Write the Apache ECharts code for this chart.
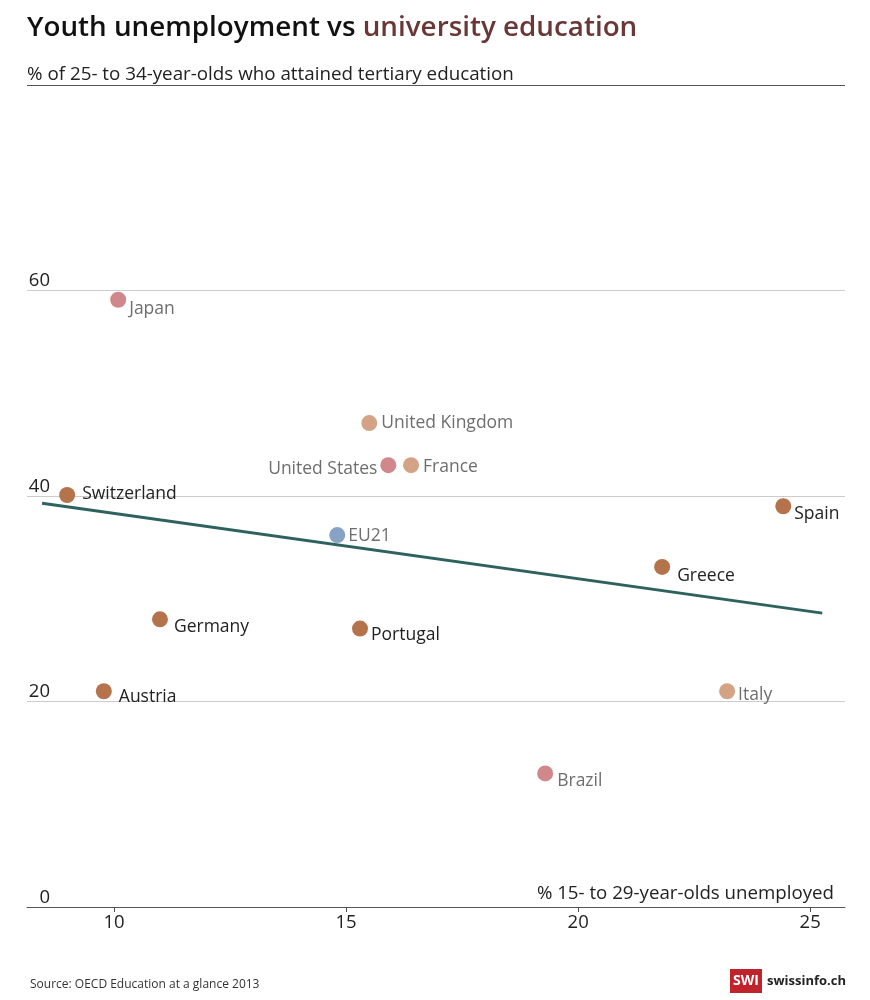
<!DOCTYPE html>
<html>
<head>
<meta charset="utf-8">
<script src="https://cdn.jsdelivr.net/npm/echarts@6/dist/echarts.min.js"></script>
<style>
html,body{margin:0;padding:0;background:#fff;}
#chart{width:870px;height:1000px;}
</style>
</head>
<body>
<div id="chart"></div>
<script>
// ---- data ----
const countries = ['Japan','United Kingdom','United States','France','Switzerland','Spain','EU21','Greece','Germany','Portugal','Austria','Italy','Brazil'];
const unemployed = [10.09, 15.50, 15.91, 16.40, 8.99, 24.42, 14.81, 21.81, 10.99, 15.30, 9.78, 23.21, 19.29];
const tertiary = [59.1, 47.1, 43.0, 43.0, 40.1, 39.0, 36.2, 33.1, 28.0, 27.1, 21.0, 21.0, 13.0];
const groups = ['pink','tan','pink','tan','brown','brown','blue','brown','brown','brown','brown','tan','pink'];
const trendX = [8.45, 25.26];
const trendY = [39.3, 28.6];
const xTicks = [10, 15, 20, 25];
const yTicks = [0, 20, 40, 60];

// ---- styles ----
const FONT = '"Open Sans", "Noto Sans", sans-serif';
const groupColor = {brown:'#b5734c', tan:'#d4a386', pink:'#d0888c', blue:'#88a2c5'};
const groupText = {brown:'#222222', tan:'#6e6e6e', pink:'#6e6e6e', blue:'#6e6e6e'};
// label placement: [position, distance, dx, dy]
const labelPlace = {
  'Japan':['right',3,0,9],
  'United Kingdom':['right',4,0,0],
  'United States':['left',3,0,4],
  'France':['right',4,0,2],
  'Switzerland':['right',7,0,-1],
  'Spain':['right',3,0,8],
  'EU21':['right',3,0,1],
  'Greece':['right',7,0,9],
  'Germany':['right',6,0,8],
  'Portugal':['right',3,0,6],
  'Austria':['right',7,0,6],
  'Italy':['right',3,0,4],
  'Brazil':['right',4,0,8]
};

const pts = countries.map((c,i)=>{
  const p = labelPlace[c];
  return {
    name:c,
    value:[unemployed[i], tertiary[i]],
    itemStyle:{color:groupColor[groups[i]], opacity:1},
    label:{show:true, formatter:c, position:p[0], distance:p[1], offset:[p[2],p[3]],
      color:groupText[groups[i]], fontSize:17.5, fontFamily:FONT, opacity:1}
  };
});

const chart = echarts.init(document.getElementById('chart'), null, {renderer:'canvas'});
chart.setOption({
  backgroundColor:'#ffffff',
  animation:false,
  title:{
    left:27, top:14, padding:0,
    text:'{a|Youth unemployment vs }{b|university education}',
    textStyle:{rich:{
      a:{fontSize:27.8, fontWeight:600, color:'#111111', fontFamily:FONT},
      b:{fontSize:27.8, fontWeight:600, color:'#6b3636', fontFamily:FONT}
    }}
  },
  grid:{left:27, right:25, top:85, bottom:93, containLabel:false},
  xAxis:{
    type:'value', min:8.125, max:25.75,
    axisLine:{show:true, lineStyle:{color:'#555555', width:1}},
    axisTick:{show:true, length:5, lineStyle:{color:'#555555'}, customValues:xTicks},
    axisLabel:{color:'#222222', fontSize:18.5, fontFamily:FONT, margin:6, customValues:xTicks},
    splitLine:{show:false}
  },
  yAxis:{
    type:'value', min:0, max:80, interval:20,
    axisLine:{show:false}, axisTick:{show:false},
    axisLabel:{inside:true, align:'right', verticalAlign:'bottom', margin:23, color:'#222222',
      fontSize:18.5, fontFamily:FONT,
      formatter:(v)=> yTicks.indexOf(v)>=0 ? String(v) : ''},
    splitLine:{show:true, lineStyle:{color:'#cccccc', width:1}}
  },
  graphic:[
    {type:'text', left:27, top:65, style:{text:'% of 25- to 34-year-olds who attained tertiary education',
      fill:'#222222', font:'18.8px '+FONT}},
    {type:'line', shape:{x1:27, y1:85.5, x2:845, y2:85.5}, style:{stroke:'#555555', lineWidth:1}, z:10},
    {type:'text', right:36, top:884, style:{text:'% 15- to 29-year-olds unemployed',
      fill:'#222222', font:'18.7px '+FONT}},
    {type:'text', left:30, top:979, style:{text:'Source: OECD Education at a glance 2013',
      fill:'#333333', font:'12px '+FONT}},
    {type:'rect', shape:{x:730, y:969, width:32, height:24}, style:{fill:'#c0232c'}},
    {type:'text', x:746, y:981, style:{text:'SWI', fill:'#ffffff', font:'bold 14px '+FONT, align:'center', verticalAlign:'middle'}},
    {type:'text', x:767, y:981, style:{text:'swissinfo.ch', fill:'#222222', font:'bold 13px '+FONT, align:'left', verticalAlign:'middle'}}
  ],
  series:[
    {type:'line', data:trendX.map((x,i)=>[x,trendY[i]]), symbol:'none',
      lineStyle:{color:'#2d625f', width:3}, z:2, silent:true},
    {type:'scatter', data:pts, symbolSize:16, z:3}
  ]
});
</script>
</body>
</html>
